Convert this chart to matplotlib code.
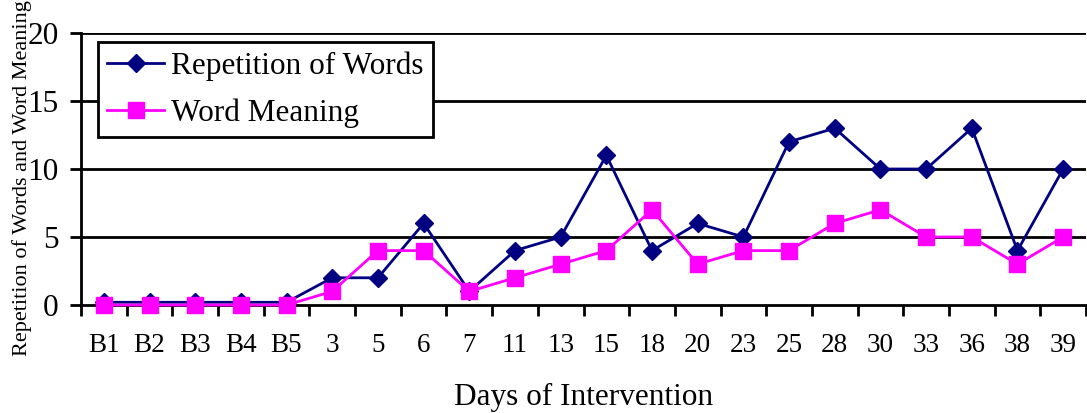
import matplotlib
matplotlib.use("Agg")
import matplotlib.pyplot as plt
import numpy as np

plt.rcParams["font.family"] = ["Liberation Serif", "DejaVu Serif"]

days = ["B1", "B2", "B3", "B4", "B5", "3", "5", "6", "7", "11", "13",
        "15", "18", "20", "23", "25", "28", "30", "33", "36", "38", "39"]
repetition = [0.2, 0.2, 0.2, 0.2, 0.2, 2, 2, 6, 1, 4, 5,
              11, 4, 6, 5, 12, 13, 10, 10, 13, 4, 10]
meaning = [0, 0, 0, 0, 0, 1, 4, 4, 1, 2, 3,
           4, 7, 3, 4, 4, 6, 7, 5, 5, 3, 5]
yticks = [0, 5, 10, 15, 20]

fig = plt.figure(figsize=(10.87, 4.13), dpi=100)
ax = fig.add_axes([81 / 1087, 1 - 305 / 413, 1005 / 1087, 272 / 413])

x = np.arange(len(days))
ax.plot(x, repetition, color="#000080", lw=2, marker="D", ms=9.5,
        label="Repetition of Words", zorder=3, clip_on=False)
ax.plot(x, meaning, color="#FF00FF", lw=2, marker="s", ms=11,
        label="Word Meaning", zorder=4, clip_on=False)

ax.set_xlim(-0.5, len(days) - 0.5)
ax.set_ylim(0, 20)
ax.set_yticks(yticks)
ax.set_yticklabels([str(v) for v in yticks], fontsize=22.5)
for v in yticks[1:]:
    ax.axhline(v, color="black", lw=2, zorder=1)

ax.set_xticks(x)
ax.set_xticklabels(days, fontsize=19.5)
ax.set_xticks(np.arange(-0.5, len(days)), minor=True)
ax.tick_params(axis="x", which="major", length=0, pad=20)
ax.tick_params(axis="x", which="minor", length=8, width=2, direction="out")
ax.tick_params(axis="y", length=8, width=2, direction="out", pad=8)

for s in ["top", "right"]:
    ax.spines[s].set_visible(False)
for s in ["left", "bottom"]:
    ax.spines[s].set_linewidth(2)

ax.set_xlabel("Days of Intervention", fontsize=22.5, labelpad=18)
fig.text(22 / 1087, 1 - 178 / 413, "Repetition of Words and Word Meaning",
         rotation=90, fontsize=16, ha="center", va="center")

leg = ax.legend(loc="upper left", bbox_to_anchor=(17 / 1005, 1 - 9 / 272),
                fontsize=22.5, frameon=True, fancybox=False, edgecolor="black",
                framealpha=1, borderpad=0.3, handlelength=1.8,
                labelspacing=0.55, borderaxespad=0, handletextpad=0.25)
leg.get_frame().set_linewidth(2)

fig.savefig("out.png", dpi=100)
